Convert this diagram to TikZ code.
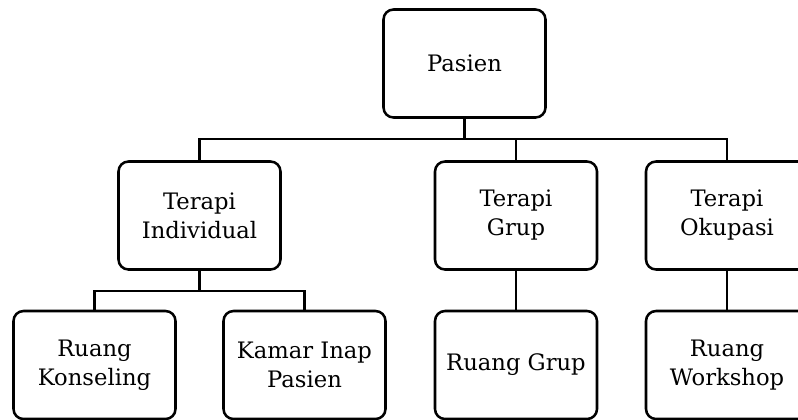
\documentclass[tikz,border=0pt]{standalone}
\usepackage{fontspec}
\setmainfont{DejaVu Serif}
\begin{document}
\begin{tikzpicture}[x=0.75pt,y=-0.75pt,
  box/.style={draw,line width=1.9pt,rounded corners=7.5pt,minimum width=121.5pt,minimum height=81pt,align=center,font=\fontsize{17}{21.75}\selectfont,inner sep=0pt},
  conn/.style={line width=1.9pt}]
\clip (0,0) rectangle (798,419);
\node[box] (pasien) at (464.5,63.5) {Pasien};
\node[box] (ti) at (199.5,215.5) {Terapi\\Individual};
\node[box] (tg) at (516,215.5) {Terapi\\Grup};
\node[box] (to) at (727,215.5) {Terapi\\Okupasi};
\node[box] (rk) at (94.5,365) {Ruang\\Konseling};
\node[box] (ki) at (304.5,365) {Kamar Inap\\Pasien};
\node[box] (rg) at (516,365) {Ruang Grup};
\node[box] (rw) at (727,365) {Ruang\\Workshop};
\coordinate (j1) at (464.5,139);
\coordinate (j2) at (199.5,291);
\draw[conn] (pasien.south) -- (j1);
\draw[conn] (ti.north) -- (ti.north |- j1) -- (to.north |- j1) -- (to.north);
\draw[conn] (tg.north) -- (tg.north |- j1);
\draw[conn] (ti.south) -- (j2);
\draw[conn] (rk.north) -- (rk.north |- j2) -- (ki.north |- j2) -- (ki.north);
\draw[conn] (tg.south) -- (rg.north);
\draw[conn] (to.south) -- (rw.north);
\end{tikzpicture}
\end{document}
